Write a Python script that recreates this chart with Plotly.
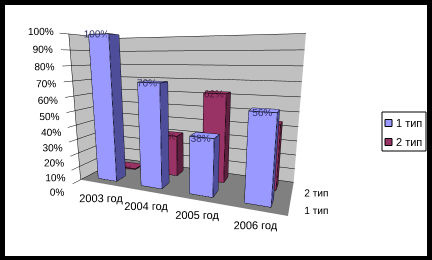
import plotly.graph_objects as go

categories = ["2003 год", "2004 год", "2005 год", "2006 год"]
series_names = ["1 тип", "2 тип"]
type1 = [1.00, 0.70, 0.38, 0.56]
type2 = [0.00, 0.30, 0.62, 0.44]
tick_vals = [0, 0.1, 0.2, 0.3, 0.4, 0.5, 0.6, 0.7, 0.8, 0.9, 1.0]
tick_text = ["0%", "10%", "20%", "30%", "40%", "50%", "60%", "70%", "80%", "90%", "100%"]

front_colors = ["#9999FF", "#993366"]
side_colors = ["#4D4D99", "#5C1F3D"]
label_colors = ["#333366", "#4D1A33"]

HW = 0.22  # half width (x)
HD = 0.22  # half depth (y)

fig = go.Figure()


def box_mesh(values, yi, fc, sc):
    xs, ys, zs, I, J, K, cols = [], [], [], [], [], [], []
    ex, ey, ez = [], [], []
    for xi, v in enumerate(values):
        h = max(v, 0.004)
        x0, x1 = xi - HW, xi + HW
        y0, y1 = yi - HD, yi + HD
        base = len(xs)
        pts = [(x0, y0, 0), (x1, y0, 0), (x1, y1, 0), (x0, y1, 0),
               (x0, y0, h), (x1, y0, h), (x1, y1, h), (x0, y1, h)]
        for p in pts:
            xs.append(p[0]); ys.append(p[1]); zs.append(p[2])
        faces = [
            ((0, 1, 5), fc), ((0, 5, 4), fc),   # front (y0)
            ((1, 2, 6), sc), ((1, 6, 5), sc),   # right (x1)
            ((2, 3, 7), sc), ((2, 7, 6), sc),   # back
            ((3, 0, 4), sc), ((3, 4, 7), sc),   # left
            ((4, 5, 6), fc), ((4, 6, 7), fc),   # top
            ((0, 1, 2), sc), ((0, 2, 3), sc),   # bottom
        ]
        for (a, b, c), col in faces:
            I.append(base + a); J.append(base + b); K.append(base + c); cols.append(col)
        edges = [(0, 1), (1, 2), (2, 3), (3, 0), (4, 5), (5, 6), (6, 7), (7, 4),
                 (0, 4), (1, 5), (2, 6), (3, 7)]
        for a, b in edges:
            ex += [pts[a][0], pts[b][0], None]
            ey += [pts[a][1], pts[b][1], None]
            ez += [pts[a][2], pts[b][2], None]
    fig.add_trace(go.Mesh3d(x=xs, y=ys, z=zs, i=I, j=J, k=K, facecolor=cols,
                            flatshading=True, showlegend=False, hoverinfo="skip",
                            lighting=dict(ambient=1, diffuse=0, specular=0,
                                          roughness=1, fresnel=0)))
    fig.add_trace(go.Scatter3d(x=ex, y=ey, z=ez, mode="lines",
                               line=dict(color="black", width=1.5),
                               showlegend=False, hoverinfo="skip"))


for yi, (vals, name) in enumerate(zip([type1, type2], series_names)):
    box_mesh(vals, yi, front_colors[yi], side_colors[yi])
    fig.add_trace(go.Scatter3d(
        x=list(range(len(categories))), y=[yi - 0.3] * len(vals), z=vals,
        mode="text", text=[f"{round(v*100)}%" for v in vals],
        textposition="middle center",
        textfont=dict(family="Liberation Sans", size=10, color=label_colors[yi]),
        showlegend=False, hoverinfo="skip"))

# category labels placed in front of the floor
fig.add_trace(go.Scatter3d(
    x=list(range(len(categories))), y=[-0.5] * len(categories), z=[0] * len(categories),
    mode="text", text=categories, textposition="bottom center",
    textfont=dict(family="Liberation Sans", size=11, color="black"),
    showlegend=False, hoverinfo="skip"))

axis_common = dict(title="", showspikes=False, showbackground=True,
                   tickfont=dict(family="Liberation Sans", size=11, color="black"))

# hand-built compact legend (box, swatches, labels)
LX0, LX1, LY0, LY1 = 382 / 432, 426 / 432, 1 - 151 / 260, 1 - 112 / 260
shapes = [
    dict(type="rect", xref="paper", yref="paper", layer="below",
         x0=5/432, x1=427/432, y0=4/260, y1=1-5/260,
         fillcolor="white", line=dict(width=0)),
    dict(type="rect", xref="paper", yref="paper",
         x0=LX0, x1=LX1, y0=LY0, y1=LY1,
         fillcolor="white", line=dict(color="black", width=1)),
]
annotations = []
for k, name in enumerate(series_names):
    cy = 1 - (123 + 19 * k) / 260
    shapes.append(dict(type="rect", xref="paper", yref="paper",
                       x0=385 / 432, x1=392 / 432, y0=cy - 3.5 / 260, y1=cy + 3.5 / 260,
                       fillcolor=front_colors[k], line=dict(color="black", width=1)))
    annotations.append(dict(text=name, xref="paper", yref="paper", x=394 / 432, y=cy,
                            xanchor="left", yanchor="middle", showarrow=False,
                            font=dict(family="Liberation Sans", size=11, color="black")))

fig.update_layout(
    width=432, height=260,
    margin=dict(l=0, r=0, t=0, b=0),
    paper_bgcolor="black",
    showlegend=False,
    shapes=shapes,
    annotations=annotations,
    scene=dict(
        domain=dict(x=[0.0, 0.86], y=[0.0, 1.0]),
        xaxis=dict(axis_common, tickvals=list(range(len(categories))), ticktext=categories,
                   showticklabels=False,
                   range=[-0.5, 3.5], showgrid=False, backgroundcolor="#C0C0C0",
                   zeroline=False, showline=False, ticks=""),
        yaxis=dict(axis_common, tickvals=[0, 1], ticktext=series_names,
                   range=[-0.5, 1.5], showgrid=False, backgroundcolor="#C0C0C0",
                   zeroline=False, showline=False, ticks="", tickangle=0),
        zaxis=dict(axis_common, tickvals=tick_vals, ticktext=tick_text,
                   range=[0, 1], showgrid=True, gridcolor="black", gridwidth=1,
                   backgroundcolor="#808080", zeroline=False, showline=True,
                   linecolor="black", ticks="outside", tickcolor="black", tickangle=0),
        aspectmode="manual", aspectratio=dict(x=2.2, y=0.8, z=1.55),
        camera=dict(eye=dict(x=1.2, y=-3.0, z=0.55),
                    center=dict(x=0, y=0, z=-0.2),
                    projection=dict(type="perspective")),
    ),
)

fig.write_html("out.html", config={"displayModeBar": False})
